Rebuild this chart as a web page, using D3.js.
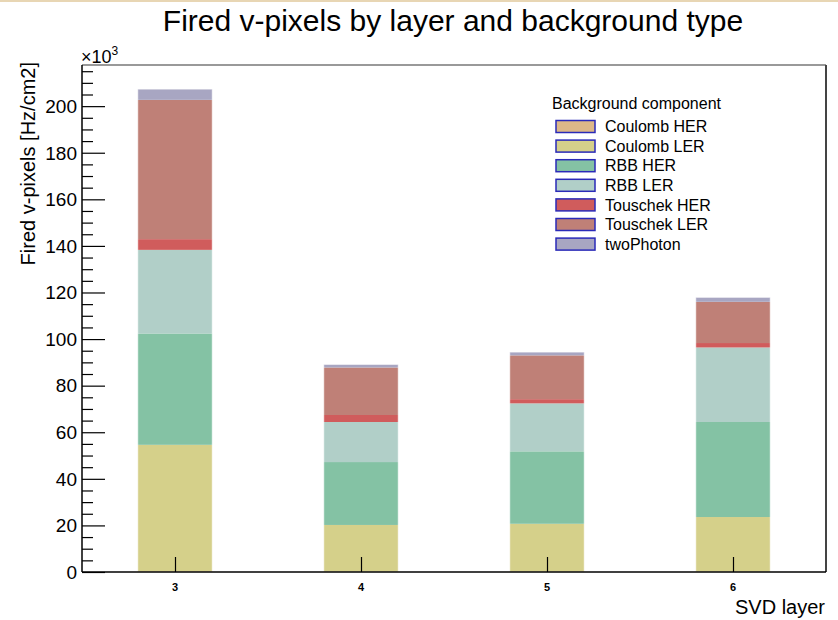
<!DOCTYPE html>
<html>
<head>
<meta charset="utf-8">
<script src="https://cdn.jsdelivr.net/npm/d3@7"></script>
<style>
  html, body { margin: 0; padding: 0; background: #fff; }
  svg { display: block; }
  text { font-family: "Liberation Sans", Arial, Helvetica, sans-serif; fill: #000; }
</style>
</head>
<body>
<svg id="chart" width="838" height="620"></svg>
<script>
// SVD layers on the x axis
const layers = [3, 4, 5, 6];

// Background components, stacked bottom to top (values in units of 10^3 Hz/cm2)
const components = ["Coulomb HER", "Coulomb LER", "RBB HER", "RBB LER", "Touschek HER", "Touschek LER", "twoPhoton"];
const coulombHER  = [0.3, 0.2, 0.2, 0.2];
const coulombLER  = [54.3, 20.0, 20.5, 23.4];
const rbbHER      = [47.8, 27.0, 31.1, 40.8];
const rbbLER      = [35.9, 17.2, 20.6, 32.0];
const touschekHER = [4.6, 3.0, 1.8, 1.9];
const touschekLER = [59.8, 20.4, 18.8, 17.7];
const twoPhoton   = [4.6, 1.3, 1.4, 1.9];
const colors = ["#ddb888", "#d5d08a", "#84c2a4", "#b1cfc8", "#d05c5c", "#bf8077", "#a8a6c2"];

const yTicks = [0, 20, 40, 60, 80, 100, 120, 140, 160, 180, 200];

const series = [coulombHER, coulombLER, rbbHER, rbbLER, touschekHER, touschekLER, twoPhoton];
const rows = layers.map((l, i) => {
  const r = { layer: l };
  components.forEach((c, k) => { r[c] = series[k][i]; });
  return r;
});
const stacked = d3.stack().keys(components)(rows);
const total = d3.max(rows, r => d3.sum(components, c => r[c]));

const svg = d3.select("#chart");
const W = 838, H = 620;
const padL = 82, padR = 826, padT = 65, padB = 572;

// Thin band along the top edge of the canvas
svg.append("rect").attr("x", 0).attr("y", 0).attr("width", W).attr("height", 2).attr("fill", "#e8d6b4");

const x = d3.scaleLinear().domain([2.5, 6.5]).range([padL, padR]);
const y = d3.scaleLinear().domain([0, total * 1.05]).range([padB, padT]);

// Stacked bars (bar occupies the central 40% of each bin)
const g = svg.append("g");
stacked.forEach((s, k) => {
  g.selectAll(null).data(s).enter().append("rect")
    .attr("x", d => x(d.data.layer - 0.2))
    .attr("width", d => x(d.data.layer + 0.2) - x(d.data.layer - 0.2))
    .attr("y", d => y(d[1]))
    .attr("height", d => Math.max(0, y(d[0]) - y(d[1])))
    .attr("fill", colors[k]);
});
// faint light edge around each bar
g.selectAll(null).data(rows).enter().append("rect")
  .attr("x", d => x(d.layer - 0.2))
  .attr("width", d => x(d.layer + 0.2) - x(d.layer - 0.2))
  .attr("y", d => y(d3.sum(components, c => d[c])))
  .attr("height", d => padB - y(d3.sum(components, c => d[c])))
  .attr("fill", "none").attr("stroke", "#ffffff").attr("stroke-opacity", 0.55).attr("stroke-width", 1);

// Frame: top and right edges
svg.append("line").attr("x1", padL).attr("x2", padR).attr("y1", padT).attr("y2", padT)
  .attr("stroke", "#777").attr("stroke-width", 1.5);
svg.append("line").attr("x1", padR).attr("x2", padR).attr("y1", padT).attr("y2", padB)
  .attr("stroke", "#444").attr("stroke-width", 2);

// Y axis: major ticks every 20, minor every 5
const yMinor = d3.range(0, y.domain()[1], 5).filter(v => v % 20 !== 0);
const yAxisMajor = d3.axisRight(y).tickValues(yTicks).tickSize(23).tickFormat("");
const yAxisMinor = d3.axisRight(y).tickValues(yMinor).tickSize(11).tickFormat("");
svg.append("g").attr("transform", `translate(${padL},0)`).call(yAxisMajor)
  .call(a => a.select(".domain").remove())
  .call(a => a.selectAll("line").attr("stroke", "#000").attr("stroke-width", 1.2));
svg.append("g").attr("transform", `translate(${padL},0)`).call(yAxisMinor)
  .call(a => a.select(".domain").remove())
  .call(a => a.selectAll("line").attr("stroke", "#000").attr("stroke-width", 1.2));
svg.append("line").attr("x1", padL).attr("x2", padL).attr("y1", padT).attr("y2", padB)
  .attr("stroke", "#000").attr("stroke-width", 1.5);
svg.append("g").selectAll("text").data(yTicks).enter().append("text")
  .attr("x", padL - 5).attr("y", d => y(d)).attr("dy", "0.36em")
  .attr("text-anchor", "end").attr("font-size", 19).text(d => d);

// X axis: a tick at each layer
const xAxis = d3.axisTop(x).tickValues(layers).tickSize(15).tickFormat("");
svg.append("g").attr("transform", `translate(0,${padB})`).call(xAxis)
  .call(a => a.select(".domain").remove())
  .call(a => a.selectAll("line").attr("stroke", "#000").attr("stroke-width", 1.2));
svg.append("line").attr("x1", padL).attr("x2", padR).attr("y1", padB).attr("y2", padB)
  .attr("stroke", "#000").attr("stroke-width", 1.5);
svg.append("g").selectAll("text").data(layers).enter().append("text")
  .attr("x", d => x(d)).attr("y", 591).attr("text-anchor", "middle")
  .attr("font-size", 11).attr("font-weight", "bold").text(d => d);

// Exponent marker
const ex = svg.append("text").attr("x", 81).attr("y", 63).attr("font-size", 18);
ex.append("tspan").text("×10");
ex.append("tspan").attr("font-size", 12).attr("dy", -8).text("3");

// Titles
svg.append("text").attr("x", 453).attr("y", 31).attr("text-anchor", "middle")
  .attr("font-size", 30).text("Fired v-pixels by layer and background type");
svg.append("text").attr("transform", "translate(35,62) rotate(-90)")
  .attr("text-anchor", "end").attr("font-size", 20).text("Fired v-pixels [Hz/cm2]");
svg.append("text").attr("x", 825).attr("y", 614).attr("text-anchor", "end")
  .attr("font-size", 20).text("SVD layer");

// Legend
const lg = svg.append("g");
lg.append("text").attr("x", 552).attr("y", 109).attr("font-size", 16).text("Background component");
components.forEach((c, k) => {
  const cy = 126.5 + k * 19.6;
  lg.append("rect").attr("x", 556).attr("y", cy - 6).attr("width", 39).attr("height", 12)
    .attr("fill", colors[k]).attr("stroke", "#2a2ab8").attr("stroke-width", 1.5);
  lg.append("text").attr("x", 605).attr("y", cy).attr("dy", "0.36em").attr("font-size", 16).text(c);
});
</script>
</body>
</html>
